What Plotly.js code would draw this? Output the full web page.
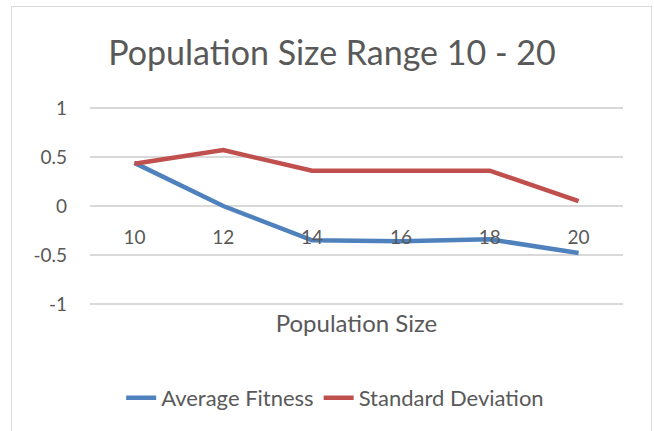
<!DOCTYPE html>
<html>
<head>
<meta charset="utf-8">
<script src="https://cdn.plot.ly/plotly-3.0.1.min.js"></script>
<style>
  html, body { margin: 0; padding: 0; background: #fff; }
  #wrap { position: relative; width: 654px; height: 431px; overflow: hidden; }
  #chart { position: absolute; left: 0; top: 0; width: 654px; height: 431px; }
  #frame { position: absolute; left: 11px; top: 6px; width: 639px; height: 440px;
           border: 1.5px solid #d9d9d9; pointer-events: none; }
</style>
</head>
<body>
<div id="wrap">
  <div id="chart"></div>
  <div id="frame"></div>
</div>
<script>
const categories = ["10", "12", "14", "16", "18", "20"];
const averageFitness = [0.44, 0.0, -0.35, -0.36, -0.34, -0.48];
const standardDeviation = [0.43, 0.57, 0.36, 0.36, 0.36, 0.05];
const yTickValues = [-1, -0.5, 0, 0.5, 1];
const yTickLabels = ["-1", "-0.5", "0", "0.5", "1"];

const FONT = "Lato, 'Open Sans', sans-serif";
const TXT = "#595959";

const traces = [
  { x: categories, y: averageFitness, name: "Average Fitness", type: "scatter", mode: "lines",
    line: { color: "#4F81BD", width: 4.5 } },
  { x: categories, y: standardDeviation, name: "Standard Deviation", type: "scatter", mode: "lines",
    line: { color: "#C0504D", width: 4.5 } }
];

const layout = {
  width: 654, height: 431,
  margin: { l: 90, r: 31, t: 106, b: 121 },
  paper_bgcolor: "#ffffff", plot_bgcolor: "#ffffff",
  font: { family: FONT, color: TXT, size: 19 },
  title: { text: "Population Size Range 10 - 20", font: { family: FONT, size: 34, color: TXT },
           x: 0.454, xref: "paper", xanchor: "center", y: 0.877, yref: "container", yanchor: "middle" },
  xaxis: {
    type: "category", range: [-0.5, 5.5], anchor: "free", position: 0.412,
    showgrid: false, zeroline: false, showline: false, ticks: "",
    tickfont: { family: FONT, size: 19, color: TXT },
    title: { text: "Population Size", font: { family: FONT, size: 24, color: TXT }, standoff: 68 },
    fixedrange: true
  },
  yaxis: {
    range: [-1.02, 1.02], tickvals: yTickValues, ticktext: yTickLabels,
    showgrid: true, gridcolor: "#d9d9d9", gridwidth: 1.3,
    zeroline: false, showline: false, ticks: "", ticklabelstandoff: 22,
    tickfont: { family: FONT, size: 19, color: TXT }, fixedrange: true
  },
  showlegend: true,
  legend: { orientation: "h", x: 0.46, xanchor: "center", y: -0.46, yanchor: "middle",
            font: { family: FONT, size: 22, color: TXT }, itemwidth: 30 }
};

Plotly.newPlot("chart", traces, layout, { displayModeBar: false, staticPlot: true });
</script>
</body>
</html>
